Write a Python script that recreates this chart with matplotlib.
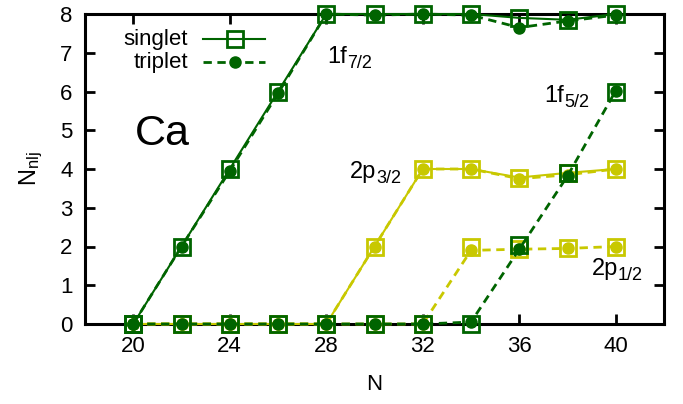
import matplotlib
matplotlib.use("Agg")
import matplotlib.pyplot as plt
from matplotlib.lines import Line2D

plt.rcParams['font.family'] = ['Liberation Sans', 'DejaVu Sans']
plt.rcParams['mathtext.fontset'] = 'custom'
plt.rcParams['mathtext.rm'] = 'Liberation Sans'
plt.rcParams['mathtext.it'] = 'Liberation Sans'

N = [20, 22, 24, 26, 28, 30, 32, 34, 36, 38, 40]
f72_singlet = [0, 2, 4, 6, 8, 8, 8, 8, 7.9, 7.85, 8]
f72_triplet = [0, 2, 3.95, 5.95, 8, 7.97, 8, 7.97, 7.65, 7.82, 7.97]
f52_singlet = [0, 0, 0, 0, 0, 0, 0, 0, 2.05, 3.9, 6.0]
f52_triplet = [0, 0, 0, 0, 0, 0, 0, 0.05, 1.93, 3.82, 6.02]
p32_singlet = [0, 0, 0, 0, 0, 2, 4, 4, 3.78, 3.9, 4]
p32_triplet = [0, 0, 0, 0, 0, 2, 4, 4, 3.75, 3.85, 4]
p12_singlet = [0, 0, 0, 0, 0, 0, 0, 2, 1.93, 1.95, 2]
p12_triplet = [0, 0, 0, 0, 0, 0, 0, 1.9, 1.93, 1.95, 2]

xticks = [20, 24, 28, 32, 36, 40]
yticks = [0, 1, 2, 3, 4, 5, 6, 7, 8]

GREEN = '#006400'
YELLOW = '#c8c800'

fig = plt.figure(figsize=(6.83, 4.04), dpi=100)
ax = fig.add_axes([85/683, 80/404, 579/683, 310/404])

lw = 1.5
dlw = 2.0
dash = (0, (3, 2))
sq = dict(marker='s', markersize=11, markerfacecolor='none', markeredgewidth=2)
ci = dict(marker='o', markersize=8)

def singlet(y, c, line=True):
    ax.plot(N, y, color=c, lw=lw if line else 0, ls='-', clip_on=False, zorder=3, **sq)

def triplet(y, c):
    ax.plot(N, y, color=c, lw=dlw, ls=dash, clip_on=False, zorder=3, **ci)

# yellow first
singlet(p32_singlet, YELLOW)
triplet(p32_triplet, YELLOW)
singlet(p12_singlet, YELLOW, line=False)
triplet(p12_triplet, YELLOW)
singlet(f72_singlet, GREEN)
triplet(f72_triplet, GREEN)
singlet(f52_singlet, GREEN, line=False)
triplet(f52_triplet, GREEN)

ax.set_xlim(18, 42)
ax.set_ylim(0, 8)
ax.set_xticks(xticks)
ax.set_yticks(yticks)
ax.tick_params(direction='in', length=7, width=2, labelsize=16, top=True, right=True)
ax.tick_params(axis='x', pad=9)
ax.tick_params(axis='y', pad=9)
for s in ax.spines.values():
    s.set_linewidth(2.2)
ax.set_xlabel('N', fontsize=16, labelpad=12)
ax.set_ylabel(r'N$_{\mathrm{nlj}}$', fontsize=17, labelpad=11)

def label(x, y, main, sub):
    t = ax.text(x, y, main, fontsize=17, ha='left', va='baseline')
    ax.annotate(sub, xy=(1, 0), xycoords=t, fontsize=13, ha='left', va='baseline')

label(28.06, 6.74, '1f', '7/2')
label(37.05, 5.74, '1f', '5/2')
label(28.97, 3.77, '2p', '3/2')
label(39.0, 1.26, '2p', '1/2')
ax.text(21.2, 4.9, 'Ca', fontsize=31, ha='center', va='center')

# legend (gnuplot style: text right-aligned, sample to the right)
tr = ax.transAxes
ax.text(0.178, 0.919, 'singlet', transform=tr, ha='right', va='center', fontsize=16)
ax.text(0.178, 0.845, 'triplet', transform=tr, ha='right', va='center', fontsize=16)
ax.add_line(Line2D([0.204, 0.311], [0.919, 0.919], transform=tr, color=GREEN, lw=lw))
ax.add_line(Line2D([0.259], [0.919], transform=tr, color=GREEN, lw=0, **sq))
ax.add_line(Line2D([0.204, 0.311], [0.845, 0.845], transform=tr, color=GREEN, lw=dlw, ls=dash))
ax.add_line(Line2D([0.259], [0.845], transform=tr, color=GREEN, lw=0, **ci))

fig.savefig('out.png', dpi=100)
